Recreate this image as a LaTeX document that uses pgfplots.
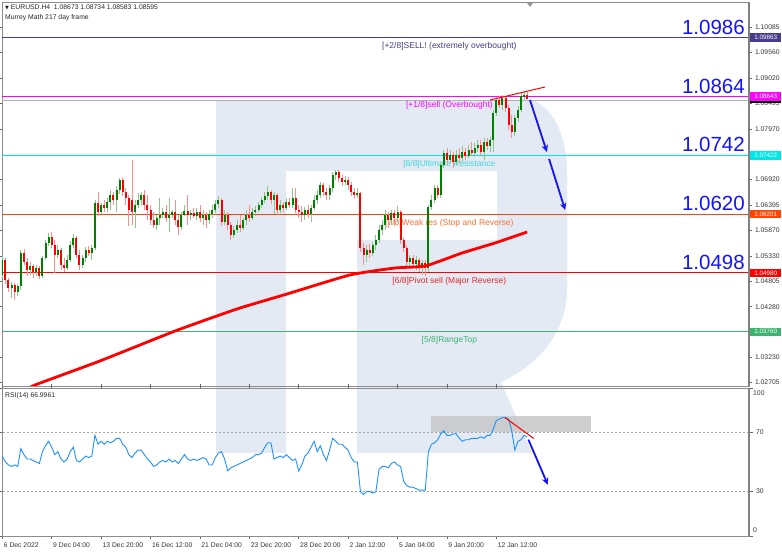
\documentclass[border=0pt]{standalone}
\usepackage{pgfplots}
\pgfplotsset{compat=1.18}
\usepackage{pgfplotstable}
\usepackage{fontspec}
\setmainfont{Liberation Sans}
\newfontfamily\dejavu{DejaVu Sans}
\usetikzlibrary{arrows.meta}
\definecolor{logo}{RGB}{228,234,243}
\definecolor{lvlA}{RGB}{72,61,139}
\definecolor{lvlB}{RGB}{255,0,255}
\definecolor{lvlC}{RGB}{0,230,230}
\definecolor{lvlCt}{RGB}{60,215,225}
\definecolor{lvlD}{RGB}{255,69,0}
\definecolor{lvlDt}{RGB}{255,110,50}
\definecolor{lvlE}{RGB}{255,0,0}
\definecolor{lvlEt}{RGB}{225,40,40}
\definecolor{lvlF}{RGB}{60,179,113}
\definecolor{bigblue}{RGB}{20,20,245}
\definecolor{cgreen}{RGB}{0,128,0}
\definecolor{cred}{RGB}{255,0,0}
\definecolor{rsiblue}{RGB}{30,144,255}

\pgfplotstableread{
i o h l c
0 1.04938 1.05333 1.04876 1.05250
3 1.04669 1.04793 1.04461 1.04731
5 1.04586 1.04752 1.04503 1.04710
6 1.04710 1.05457 1.04627 1.05395
9 1.05042 1.05208 1.04938 1.05125
11 1.05001 1.05146 1.04918 1.05084
13 1.04918 1.05333 1.04876 1.05291
14 1.05291 1.05665 1.05250 1.05602
15 1.05602 1.05810 1.05540 1.05727
18 1.05353 1.05561 1.05291 1.05457
21 1.05084 1.05353 1.05042 1.05250
22 1.05250 1.05644 1.05208 1.05561
23 1.05561 1.05789 1.05499 1.05706
26 1.05146 1.05353 1.05084 1.05291
27 1.05291 1.05519 1.05208 1.05457
29 1.05395 1.05561 1.05250 1.05499
30 1.05499 1.06495 1.05457 1.06432
32 1.06246 1.06432 1.06204 1.06391
34 1.06329 1.06536 1.06246 1.06453
35 1.06453 1.06702 1.06287 1.06598
37 1.06495 1.06785 1.06246 1.06702
38 1.06702 1.06951 1.06619 1.06910
43 1.06246 1.06495 1.05914 1.06391
44 1.06391 1.06640 1.06329 1.06495
45 1.06495 1.06661 1.06391 1.06598
50 1.05976 1.06183 1.05872 1.06121
51 1.06121 1.06536 1.05976 1.06183
52 1.06183 1.06329 1.06121 1.06246
54 1.06121 1.06536 1.05831 1.06183
55 1.06183 1.06287 1.06121 1.06246
58 1.05934 1.06246 1.05872 1.06183
59 1.06183 1.06391 1.06163 1.06266
61 1.06183 1.06287 1.06080 1.06225
63 1.06163 1.06329 1.06080 1.06246
65 1.06121 1.06287 1.05976 1.06183
67 1.06080 1.06287 1.05997 1.06204
68 1.06204 1.06391 1.06121 1.06287
69 1.06287 1.06495 1.06225 1.06412
70 1.06412 1.06578 1.06329 1.06495
72 1.06038 1.06287 1.05976 1.06183
75 1.05768 1.05955 1.05706 1.05872
76 1.05872 1.06080 1.05810 1.05976
78 1.05914 1.06121 1.05872 1.06080
79 1.06080 1.06287 1.05976 1.06183
81 1.06121 1.06329 1.06080 1.06246
82 1.06246 1.06370 1.06163 1.06287
83 1.06287 1.06453 1.06246 1.06391
84 1.06391 1.06557 1.06329 1.06495
85 1.06495 1.06661 1.06432 1.06578
86 1.06578 1.06785 1.06495 1.06661
88 1.06495 1.06661 1.06204 1.06598
90 1.06287 1.06495 1.06225 1.06391
92 1.06329 1.06536 1.06287 1.06453
94 1.06391 1.06744 1.06329 1.06536
98 1.06183 1.06349 1.06080 1.06287
100 1.06204 1.06391 1.06038 1.06329
101 1.06329 1.06598 1.06287 1.06495
102 1.06495 1.06702 1.06412 1.06598
103 1.06598 1.06868 1.06536 1.06806
106 1.06598 1.06806 1.06495 1.06744
107 1.06744 1.07076 1.06661 1.07013
108 1.07013 1.07117 1.06910 1.07076
111 1.06868 1.06993 1.06806 1.06910
115 1.06598 1.06744 1.06536 1.06640
118 1.05353 1.05561 1.05208 1.05457
120 1.05395 1.05623 1.05333 1.05561
121 1.05561 1.05768 1.05457 1.05665
122 1.05665 1.05976 1.05602 1.05872
123 1.05872 1.06080 1.05768 1.05976
124 1.05976 1.06287 1.05872 1.06183
126 1.06080 1.06287 1.05976 1.06225
128 1.06121 1.06370 1.06038 1.06246
132 1.05208 1.05353 1.05084 1.05291
134 1.05167 1.05333 1.05042 1.05250
136 1.05125 1.05250 1.04938 1.05187
138 1.05084 1.06391 1.05001 1.06349
139 1.06349 1.06598 1.06287 1.06495
140 1.06495 1.06806 1.06432 1.06744
142 1.06598 1.07283 1.06536 1.07221
143 1.07221 1.07532 1.07159 1.07470
145 1.07325 1.07532 1.07262 1.07428
147 1.07283 1.07532 1.07221 1.07428
149 1.07366 1.07615 1.07283 1.07491
151 1.07408 1.07636 1.07366 1.07532
153 1.07470 1.07677 1.07387 1.07574
154 1.07574 1.07740 1.07491 1.07636
156 1.07491 1.07781 1.07325 1.07698
158 1.07615 1.07802 1.07491 1.07740
159 1.07740 1.08362 1.07491 1.08300
160 1.08300 1.08632 1.08238 1.08570
162 1.08466 1.08674 1.08362 1.08612
166 1.07905 1.08259 1.07822 1.08196
167 1.08196 1.08446 1.08113 1.08362
168 1.08362 1.08715 1.08321 1.08653
169 1.08653 1.08736 1.08570 1.08674
}\upbars

\pgfplotstableread{
i o h l c
1 1.05250 1.05291 1.04752 1.04835
2 1.04835 1.04876 1.04586 1.04669
4 1.04731 1.04772 1.04420 1.04586
7 1.05395 1.05478 1.05146 1.05208
8 1.05208 1.05291 1.04918 1.05042
10 1.05125 1.05167 1.04876 1.05001
12 1.05084 1.05125 1.04855 1.04918
16 1.05727 1.05831 1.05499 1.05561
17 1.05561 1.05665 1.04980 1.05353
19 1.05457 1.05499 1.05042 1.05146
20 1.05146 1.05291 1.05001 1.05084
24 1.05706 1.05748 1.05291 1.05353
25 1.05353 1.05457 1.05042 1.05146
28 1.05457 1.05540 1.05333 1.05395
31 1.06432 1.06661 1.06163 1.06246
33 1.06391 1.06495 1.06246 1.06329
36 1.06598 1.06661 1.06391 1.06495
39 1.06910 1.06951 1.06578 1.06661
40 1.06661 1.06744 1.06391 1.06536
41 1.06536 1.06598 1.05955 1.06287
42 1.06495 1.07325 1.05976 1.06246
46 1.06598 1.06702 1.06287 1.06391
47 1.06391 1.06598 1.06080 1.06287
48 1.06287 1.06391 1.05976 1.06080
49 1.06080 1.06246 1.05914 1.05976
53 1.06246 1.06391 1.06038 1.06121
56 1.06246 1.06495 1.05976 1.06080
57 1.06080 1.06183 1.05768 1.05934
60 1.06266 1.06598 1.05976 1.06183
62 1.06225 1.06329 1.06121 1.06163
64 1.06246 1.06391 1.06038 1.06121
66 1.06183 1.06246 1.05914 1.06080
71 1.06495 1.06536 1.05955 1.06038
73 1.06183 1.06246 1.05872 1.05976
74 1.05976 1.06038 1.05665 1.05768
77 1.05976 1.06183 1.05831 1.05914
80 1.06183 1.06391 1.06038 1.06121
87 1.06661 1.06702 1.06412 1.06495
89 1.06598 1.06640 1.06183 1.06287
91 1.06391 1.06453 1.06246 1.06329
93 1.06453 1.06536 1.06329 1.06391
95 1.06536 1.06744 1.06225 1.06287
96 1.06287 1.06391 1.06121 1.06246
97 1.06246 1.06370 1.06038 1.06183
99 1.06287 1.06391 1.06121 1.06204
104 1.06806 1.06847 1.06578 1.06661
105 1.06661 1.06744 1.06495 1.06598
109 1.07076 1.07117 1.06868 1.06951
110 1.06951 1.07013 1.06785 1.06868
112 1.06910 1.06972 1.06702 1.06806
113 1.06806 1.06868 1.06578 1.06661
114 1.06661 1.06744 1.06536 1.06598
116 1.06640 1.06661 1.05416 1.05499
117 1.05499 1.05602 1.05146 1.05353
119 1.05457 1.05582 1.05291 1.05395
125 1.06183 1.06246 1.05914 1.06080
127 1.06225 1.06287 1.05955 1.06121
129 1.06246 1.06287 1.05582 1.05665
130 1.05665 1.05706 1.05416 1.05499
131 1.05499 1.05561 1.05125 1.05208
133 1.05291 1.05353 1.05084 1.05167
135 1.05250 1.05291 1.05001 1.05125
137 1.05187 1.05250 1.04918 1.05084
141 1.06744 1.06806 1.06536 1.06598
144 1.07470 1.07574 1.07221 1.07325
146 1.07428 1.07491 1.07159 1.07283
148 1.07428 1.07574 1.07262 1.07366
150 1.07491 1.07574 1.07325 1.07408
152 1.07532 1.07698 1.07408 1.07470
155 1.07636 1.07740 1.07428 1.07491
157 1.07698 1.07781 1.07532 1.07615
161 1.08570 1.08653 1.08404 1.08466
163 1.08612 1.08653 1.08321 1.08404
164 1.08404 1.08466 1.07947 1.08051
165 1.08051 1.08259 1.07781 1.07905
170 1.08673 1.08734 1.08583 1.08595
}\downbars

\pgfplotsset{
  chartbase/.style={
    scale only axis, width=747pt,
    xmin=-0.1, xmax=241.85,
    axis line style={black!45},
    tick align=outside, major tick length=2.5pt,
    tick style={black!60, line width=0.5pt},
    clip mode=individual,
    ticklabel style={font=\fontsize{6.8}{7}\selectfont, text=black!80},
  },
}
\tikzset{
  lvlbox/.style={anchor=west, inner sep=0.8pt, minimum width=31pt, minimum height=8.5pt,
    text=white, font=\fontsize{6.3}{6.5}\selectfont, xshift=1pt},
  lvltxt/.style={anchor=north, inner sep=0pt, yshift=-4.5pt, font=\fontsize{8.5}{9}\selectfont},
  bignum/.style={anchor=south east, inner sep=0pt, yshift=3pt, text=bigblue, font=\fontsize{20.5}{21}\selectfont},
}

\begin{document}
\begin{tikzpicture}
\useasboundingbox (0,0) rectangle (782pt,553pt);
% watermark logo (decoration)
\begin{scope}[shift={(0pt,553pt)}, x=1pt, y=-1pt]
\fill[logo] (216,453) -- (216,100) -- (533,100) .. controls (556,110) and (567,140) .. (567,172) -- (567,290)
  .. controls (567,330) and (540,365) .. (501,382) -- (532,453) -- (357,453)
  -- (357,240) -- (497,240) -- (497,171) -- (286,171) -- (286,453) -- cycle;
\fill[black!40] (527,3) -- (533,3) -- (530,7) -- cycle;
\end{scope}

% ================= main price panel =================
\begin{axis}[chartbase,
  at={(2pt,167pt)}, anchor=south west, height=384pt,
  ymin=1.02635, ymax=1.10604,
  xtick=\empty,
  ytick={1.02705,1.03230,1.04280,1.04805,1.05330,1.05870,1.06395,1.06920,1.07970,1.08495,1.09020,1.09560,1.10085},
  yticklabels={1.02705,1.03230,1.04280,1.04805,1.05330,1.05870,1.06395,1.06920,1.07970,1.08495,1.09020,1.09560,1.10085},
  yticklabel pos=right,
]
% current price line
\addplot[black!30, line width=0.5pt] coordinates {(-1,1.08575) (250,1.08575)};
% Murrey levels
\addplot[lvlA, line width=1pt] coordinates {(-1,1.09863) (250,1.09863)};
\addplot[lvlB, line width=1pt] coordinates {(-1,1.08643) (250,1.08643)};
\addplot[lvlC, line width=1.2pt] coordinates {(-1,1.07422) (250,1.07422)};
\addplot[lvlD, line width=1pt] coordinates {(-1,1.06201) (250,1.06201)};
\addplot[lvlE, line width=1pt] coordinates {(-1,1.04980) (250,1.04980)};
\addplot[lvlF, line width=1pt] coordinates {(-1,1.03760) (250,1.03760)};

\node[lvltxt, text=lvlA] at (axis cs:144.8,1.09863) {[+2/8]SELL! (extremely overbought)};
\node[lvltxt, text=lvlB] at (axis cs:144.8,1.08643) {[+1/8]sell (Overbought)};
\node[lvltxt, text=lvlCt] at (axis cs:144.8,1.07422) {[8/8]Ultimate Resistance};
\node[lvltxt, text=lvlDt] at (axis cs:144.8,1.06201) {[7/8]Weak res (Stop and Reverse)};
\node[lvltxt, text=lvlEt] at (axis cs:144.8,1.04980) {[6/8]Pivot sell (Major Reverse)};
\node[lvltxt, text=lvlF] at (axis cs:144.8,1.03760) {[5/8]RangeTop};

% candles: wicks
\addplot[forget plot, draw=none, mark=none, error bars/.cd, y dir=both, y explicit, error mark=none,
  error bar style={draw=cgreen!45, line width=0.8pt, solid}]
  table[x=i, y expr=(\thisrow{h}+\thisrow{l})/2, y error expr=(\thisrow{h}-\thisrow{l})/2] {\upbars};
\addplot[forget plot, draw=none, mark=none, error bars/.cd, y dir=both, y explicit, error mark=none,
  error bar style={draw=cred!45, line width=0.8pt, solid}]
  table[x=i, y expr=(\thisrow{h}+\thisrow{l})/2, y error expr=(\thisrow{h}-\thisrow{l})/2] {\downbars};
% candles: bodies
\addplot[forget plot, draw=none, mark=none, error bars/.cd, y dir=both, y explicit, error mark=none,
  error bar style={draw=cgreen, line width=2pt, solid}]
  table[x=i, y expr=(\thisrow{o}+\thisrow{c})/2, y error expr=(\thisrow{c}-\thisrow{o})/2] {\upbars};
\addplot[forget plot, draw=none, mark=none, error bars/.cd, y dir=both, y explicit, error mark=none,
  error bar style={draw=cred, line width=2pt, solid}]
  table[x=i, y expr=(\thisrow{o}+\thisrow{c})/2, y error expr=(\thisrow{o}-\thisrow{c})/2] {\downbars};

% moving average
\addplot[cred, line width=2.8pt, smooth, tension=0.3] coordinates {
 (6,1.0250) (10.6,1.02656) (31.6,1.03154) (56.0,1.03777) (76.0,1.04233) (92.2,1.04544)
 (112.6,1.04939) (127.2,1.05084) (137.0,1.05125) (148.9,1.05395) (159.6,1.05603) (170.0,1.05831)};
% trend line at top
\addplot[cred, line width=1pt] coordinates {(158.0,1.08570) (175.8,1.08840)};
% arrows
\addplot[bigblue, line width=1.8pt, -{Stealth[length=7pt,width=6.5pt]}] coordinates {(170.9,1.08570) (176.4,1.07491)};
\addplot[bigblue, line width=1.8pt, -{Stealth[length=7pt,width=6.5pt]}] coordinates {(177.1,1.07346) (182.3,1.06287)};

% big numbers
\node[bignum] at (axis cs:240.55,1.09863) {1.0986};
\node[bignum] at (axis cs:240.55,1.08643) {1.0864};
\node[bignum] at (axis cs:240.55,1.07422) {1.0742};
\node[bignum] at (axis cs:240.55,1.06201) {1.0620};
\node[bignum] at (axis cs:240.55,1.04980) {1.0498};

% right axis
\draw[black!50, line width=1.3pt] (rel axis cs:1,0) -- (rel axis cs:1,1);
% price boxes
\node[lvlbox, fill=black, minimum height=2.5pt, inner sep=0pt] at (axis cs:241.85,1.08540) {};
\node[lvlbox, fill=lvlA] at (axis cs:241.85,1.09863) {1.09863};
\node[lvlbox, fill=lvlB] at (axis cs:241.85,1.08643) {1.08643};
\node[lvlbox, fill=lvlC] at (axis cs:241.85,1.07422) {1.07422};
\node[lvlbox, fill=lvlD] at (axis cs:241.85,1.06201) {1.06201};
\node[lvlbox, fill=lvlE] at (axis cs:241.85,1.04980) {1.04980};
\node[lvlbox, fill=lvlF] at (axis cs:241.85,1.03760) {1.03760};

% header
\node[anchor=north west, inner sep=0pt, align=left, font=\fontsize{6.8}{10}\selectfont, text=black!85]
  at (rel axis cs:0,1) [xshift=3pt, yshift=-3pt]
  {{\dejavu\fontsize{5}{5}\selectfont ▼}\ EURUSD.H4\ \ 1.08673 1.08734 1.08583 1.08595\\Murrey Math 217 day frame};
\end{axis}

% ================= RSI panel =================
\begin{axis}[chartbase,
  at={(2pt,17pt)}, anchor=south west, height=148pt,
  ymin=0, ymax=100,
  ytick={0,30,70,100}, yticklabels={,30,70,},
  yticklabel pos=right,
  xtick={0,16,32,48,64,80,96,112,128,144,160},
  xticklabels={6 Dec 2022,9 Dec 04:00,13 Dec 20:00,16 Dec 12:00,21 Dec 04:00,23 Dec 20:00,28 Dec 20:00,2 Jan 12:00,5 Jan 04:00,9 Jan 20:00,12 Jan 12:00},
  xticklabel style={anchor=north west, xshift=-2pt, yshift=0.5pt},
  major tick length=3.5pt,
]
\addplot[black!35, line width=0.5pt, dash pattern=on 2pt off 2pt] coordinates {(-1,70) (250,70)};
\addplot[black!35, line width=0.5pt, dash pattern=on 2pt off 2pt] coordinates {(-1,30) (250,30)};
\addplot[fill=black!22, draw=none, fill opacity=0.85] coordinates {(139,70) (190.8,70) (190.8,81) (139,81)} -- cycle;
\addplot[rsiblue, line width=0.9pt] coordinates {
(0,54) (1,50) (2,48) (3,47) (4,48) (5,47) (6,59) (7,55) (8,52) (9,52) (10,51) (11,50) (12,49)
(13,57) (14,61) (15,64) (16,60) (17,55) (18,57) (19,52) (20,50) (21,52) (22,57) (23,60) (24,51)
(25,50) (26,52) (27,54) (28,53) (29,54) (30,68) (31,62) (32,64) (33,62) (34,64) (35,63) (36,64)
(37,66) (38,66) (39,62) (40,60) (41,55) (42,53) (43,56) (44,58) (45,58) (46,55) (47,52) (48,50)
(49,47) (50,48) (51,50) (52,51) (53,50) (54,52) (55,50) (56,51) (57,49) (58,52) (59,55) (60,52)
(61,51) (62,52) (63,51) (64,52) (65,53) (66,52) (67,48) (68,48) (69,53) (70,56) (71,57) (72,52)
(73,44) (74,46) (75,47) (76,48) (77,49) (78,50) (79,51) (80,52) (81,53) (82,55) (83,55) (84,56)
(85,60) (86,63) (87,63) (88,52) (89,53) (90,54) (91,53) (92,55) (93,53) (94,51) (95,52) (96,44)
(97,48) (98,54) (99,56) (100,60) (101,64) (102,57) (103,61) (104,55) (105,51) (106,58) (107,66)
(108,64) (109,62) (110,62) (111,60) (112,58) (113,53) (114,50) (115,50) (116,30) (117,28) (118,30)
(119,30) (120,29) (121,30) (122,45) (123,47) (124,47) (125,46) (126,49) (127,50) (128,48) (129,47)
(130,37) (131,34) (132,33) (133,33) (134,32) (135,31) (136,31) (137,31) (138,57) (139,62) (140,63)
(141,65) (142,69) (143,71) (144,68) (145,68) (146,69) (147,69) (148,66) (149,64) (150,65) (151,65)
(152,66) (153,66) (154,66) (155,67) (156,66) (157,68) (158,68) (159,72) (160,78) (161,79) (162,80)
(163,80) (164,79) (165,71) (166,58) (167,64) (168,65) (169,68) (170,67)};
\addplot[cred, line width=1pt] coordinates {(162.8,80) (172.2,65.8)};
\addplot[bigblue, line width=1.8pt, -{Stealth[length=7pt,width=6.5pt]}] coordinates {(170.4,65.1) (176.7,34.6)};
\draw[black!50, line width=1.3pt] (rel axis cs:1,0) -- (rel axis cs:1,1);
\node[anchor=north west, inner sep=0pt, font=\fontsize{6.8}{7}\selectfont, text=black!85]
  at (rel axis cs:0,1) [xshift=3pt, yshift=-4pt] {RSI(14) 66.9961};
\node[anchor=north west, inner sep=0pt, font=\fontsize{6.8}{7}\selectfont, text=black!80]
  at (rel axis cs:1,1) [xshift=4pt, yshift=-3pt] {100};
\node[anchor=south west, inner sep=0pt, font=\fontsize{6.8}{7}\selectfont, text=black!80]
  at (rel axis cs:1,0) [xshift=4pt, yshift=3pt] {0};
\end{axis}
\end{tikzpicture}
\end{document}
